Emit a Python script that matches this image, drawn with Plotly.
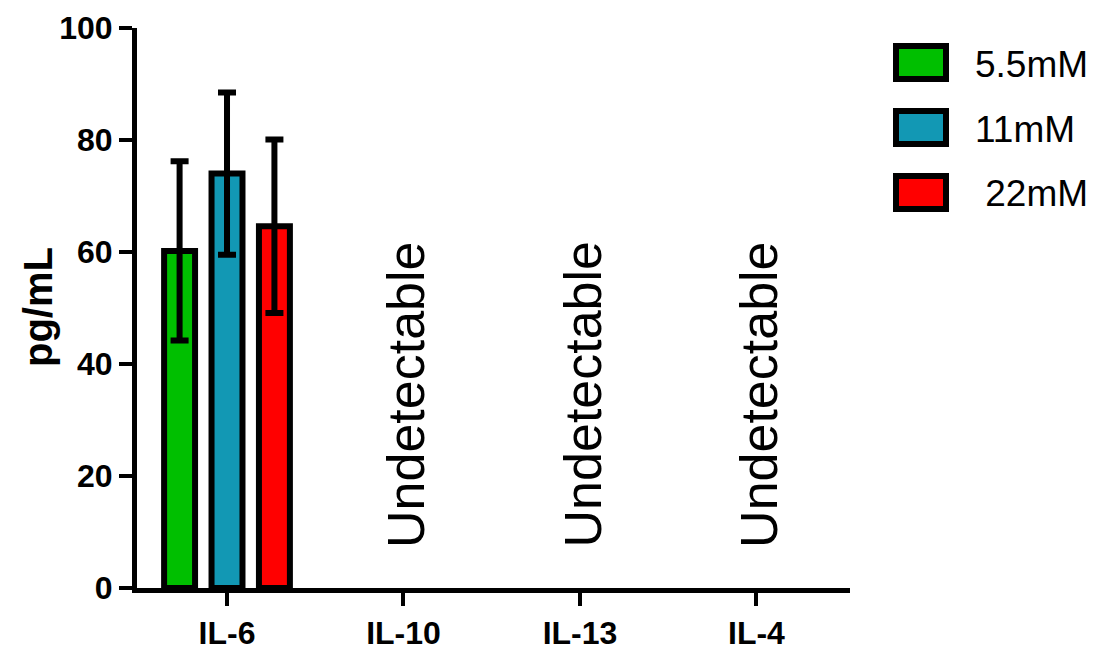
import plotly.graph_objects as go

categories = ["IL-6", "IL-10", "IL-13", "IL-4"]
series_names = ["5.5mM", "11mM", " 22mM"]
colors = ["#00BF00", "#1298B4", "#FF0000"]
means_55 = [60.2, None, None, None]
means_11 = [74.0, None, None, None]
means_22 = [64.6, None, None, None]
err_55 = [16.0, None, None, None]
err_11 = [14.5, None, None, None]
err_22 = [15.5, None, None, None]
undetectable = ["IL-10", "IL-13", "IL-4"]
y_ticks = [0, 20, 40, 60, 80, 100]

FONT = "Liberation Sans, Arial"

# layout geometry (pixels)
W, H = 1099, 652
L, R, T, B = 137, 249, 28, 64
PW, PH = W - L - R, H - T - B


def px_x(px):
    return (px - L) / PW


def px_y(py):
    return (H - B - py) / PH


fig = go.Figure()
for name, col, m, e in zip(series_names, colors,
                           [means_55, means_11, means_22],
                           [err_55, err_11, err_22]):
    fig.add_trace(go.Bar(
        x=categories, y=m, name=name, showlegend=False,
        marker=dict(color=col, line=dict(color="black", width=6)),
        error_y=dict(type="data", array=e, visible=True, color="black",
                     thickness=6, width=9),
    ))

annotations = []
for cat in undetectable:
    annotations.append(dict(
        x=categories.index(cat) + 0.015, y=34.5, xref="x", yref="y",
        text="Undetectable", textangle=-90, showarrow=False,
        font=dict(family=FONT, size=52, color="black"),
        xanchor="center", yanchor="middle"))

annotations.append(dict(
    x=px_x(38), y=px_y(307), xref="paper", yref="paper", text="<b>pg/mL</b>",
    textangle=-90, showarrow=False, xanchor="center", yanchor="middle",
    font=dict(family=FONT, size=40, color="black")))

shapes = []
box_tops = [46, 111, 176]
text_y = [64, 129, 194]
for i, (name, col) in enumerate(zip(series_names, colors)):
    shapes.append(dict(
        type="rect", xref="paper", yref="paper",
        x0=px_x(896), x1=px_x(946), y0=px_y(box_tops[i]), y1=px_y(box_tops[i] + 33),
        fillcolor=col, line=dict(color="black", width=6)))
    annotations.append(dict(
        x=px_x(973), y=px_y(text_y[i]), xref="paper", yref="paper",
        text=name.replace(" ", "&nbsp;"), showarrow=False, xanchor="left", yanchor="middle",
        font=dict(family=FONT, size=37, color="black")))

fig.update_layout(
    width=W, height=H,
    margin=dict(l=L, r=R, t=T, b=B),
    plot_bgcolor="white", paper_bgcolor="white",
    barmode="group", bargap=0.194, bargroupgap=0.347,
    xaxis=dict(range=[-0.51, 3.53], showgrid=False, zeroline=False, automargin=False,
               showline=True, linecolor="black", linewidth=5,
               ticks="outside", ticklen=13, tickwidth=4, tickcolor="black",
               tickfont=dict(family=FONT, size=32, color="black"),
               tickvals=categories, ticktext=["<b>%s</b>" % c for c in categories]),
    yaxis=dict(range=[0, 100], showgrid=False, zeroline=False, automargin=False,
               showline=True, linecolor="black", linewidth=5,
               ticks="outside", ticklen=13, tickwidth=4, tickcolor="black",
               tickvals=y_ticks, ticktext=["<b>%d</b>" % v for v in y_ticks],
               tickfont=dict(family=FONT, size=32, color="black")),
    annotations=annotations, shapes=shapes,
)

fig.write_html("out.html", config={"displayModeBar": False},
               post_script="document.body.style.margin='0px';document.body.style.overflow='hidden';")
